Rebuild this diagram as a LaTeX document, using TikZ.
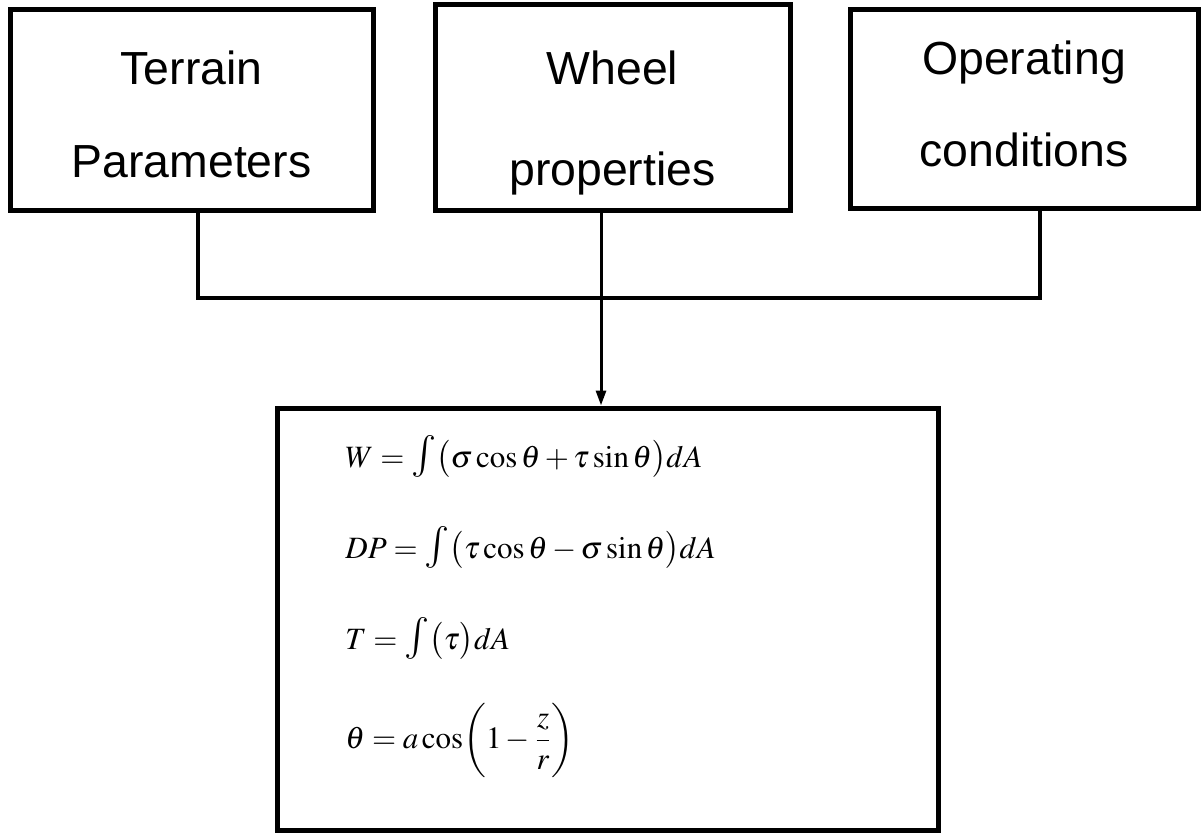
\documentclass[tikz,border=0pt]{standalone}
\usepackage{amsmath}
\usepackage{graphicx}
\usepackage{mathptmx}
\usepackage{fontspec}
\setmainfont{Liberation Sans}
\usetikzlibrary{positioning,arrows.meta}
\newcommand{\bint}{\mathop{\scalebox{1.35}{$\int$}}\nolimits}
\tikzset{inbox/.style={draw, line width=2.5pt, inner sep=0pt},
  boxtext/.style={anchor=base, inner sep=0pt, font=\fontsize{23.2}{28}\selectfont},
  eqn/.style={anchor=base west, inner sep=0pt, font=\fontsize{15.5}{18}\selectfont},
  link/.style={line width=2pt}}

\begin{document}
\begin{tikzpicture}[x=0.5pt,y=-0.5pt]
  \useasboundingbox (0,0) rectangle (1202,834);
  % input boxes
  \node[inbox, minimum width=181.5pt, minimum height=100pt] (terrain) at (191.5,110) {};
  \node[inbox, minimum width=177.5pt, minimum height=102.5pt] (wheel) at (612.5,107.5) {};
  \node[inbox, minimum width=174pt, minimum height=99pt] (oper) at (1024,109) {};
  \node[boxtext] (terrainA) at (191.5,85) {Terrain};
  \node[boxtext] (terrainB) at (191.5,177) {Parameters};
  \node[boxtext] (wheelA) at (612.5,85) {Wheel};
  \node[boxtext] (wheelB) at (612.5,185) {properties};
  \node[boxtext] (operA) at (1024,75) {Operating};
  \node[boxtext] (operB) at (1024,167) {conditions};
  % model box
  \node[inbox, minimum width=330.5pt, minimum height=211pt] (model) at (607.5,619) {};
  \coordinate (bus) at (601,298);
  % equations
  \node[eqn] (eqW) at (345,467) {$W=\bint\bigl(\sigma\cos\theta+\tau\sin\theta\bigr)dA$};
  \node[eqn] (eqDP) at (345,558) {$DP=\bint\bigl(\tau\cos\theta-\sigma\sin\theta\bigr)dA$};
  \node[eqn] (eqT) at (345,649) {$T=\bint\bigl(\tau\bigr)dA$};
  \node[eqn] (eqth) at (345,748) {$\theta=a\cos\biggl(1-\dfrac{z}{r}\biggr)$};
  % connectors
  \draw[link] ([xshift=3pt]terrain.south) |- (bus) -| ([xshift=8pt]oper.south);
  \draw[line width=1.5pt, -{Triangle[length=7.5pt,width=5pt]}] (wheel.south -| bus) -- (model.north -| bus);
\end{tikzpicture}
\end{document}
